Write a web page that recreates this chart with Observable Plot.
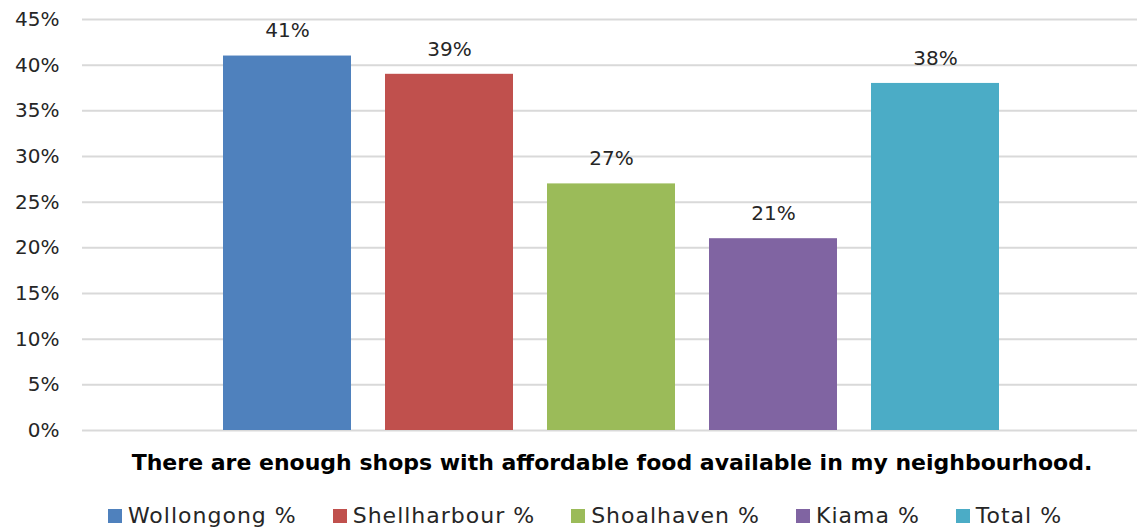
<!DOCTYPE html>
<html>
<head>
<meta charset="utf-8">
<script src="https://cdn.jsdelivr.net/npm/d3@7"></script>
<script src="https://cdn.jsdelivr.net/npm/@observablehq/plot@0.6"></script>
<style>
  html, body { margin: 0; padding: 0; background: #fff; }
  body { width: 1137px; height: 529px; overflow: hidden; font-family: "DejaVu Sans", sans-serif; color: #262626; }
  #chart svg { display: block; }
  #title { text-align: center; font-weight: bold; font-size: 22px; color: #000; margin-top: 0px; padding-left: 87px; height: 26px; line-height: 26px; white-space: nowrap; }
  #legend { display: flex; justify-content: center; gap: 36px; margin-top: 27px; font-size: 22px; letter-spacing: 1px; line-height: 26px; padding-left: 33px; white-space: nowrap; }
  .item { display: flex; align-items: center; }
  .sw { width: 14px; height: 14px; margin-right: 6px; display: inline-block; }
</style>
</head>
<body>
<div id="chart"></div>
<div id="title"></div>
<div id="legend"></div>
<script>
const series = ["Wollongong %", "Shellharbour %", "Shoalhaven %", "Kiama %", "Total %"];
const values = [0.41, 0.39, 0.27, 0.21, 0.38];
const colors = ["#4F81BD", "#C0504D", "#9BBB59", "#8064A2", "#4BACC6"];
const yTicks = [0, 0.05, 0.10, 0.15, 0.20, 0.25, 0.30, 0.35, 0.40, 0.45];
const category = "There are enough shops with affordable food available in my neighbourhood.";

const data = series.map((s, i) => ({series: s, value: values[i]}));
const pct = d => Math.round(d * 100) + "%";

const chart = Plot.plot({
  width: 1137,
  height: 450,
  marginLeft: 82,
  marginRight: 0,
  marginTop: 19,
  marginBottom: 20,
  style: {fontFamily: "DejaVu Sans, sans-serif", fontSize: "20px", color: "#262626", background: "#fff", overflow: "visible"},
  x: {type: "band", domain: series, range: [187, 1035], padding: 0.209, axis: null},
  y: {domain: [0, 0.45], ticks: yTicks, tickFormat: pct, tickSize: 0, tickPadding: 23, label: null},
  color: {domain: series, range: colors},
  marks: [
    Plot.ruleY(yTicks, {stroke: "#d9d9d9", strokeWidth: 2}),
    Plot.barY(data, {x: "series", y: "value", fill: "series"}),
    Plot.text(data, {x: "series", y: "value", text: d => pct(d.value), dy: -25, fill: "#262626", fontSize: 20})
  ]
});
document.getElementById("chart").appendChild(chart);
document.getElementById("title").textContent = category;

const legend = document.getElementById("legend");
series.forEach((s, i) => {
  const it = document.createElement("div");
  it.className = "item";
  const sw = document.createElement("span");
  sw.className = "sw";
  sw.style.background = colors[i];
  const t = document.createElement("span");
  t.textContent = s;
  it.appendChild(sw); it.appendChild(t);
  legend.appendChild(it);
});
</script>
</body>
</html>
